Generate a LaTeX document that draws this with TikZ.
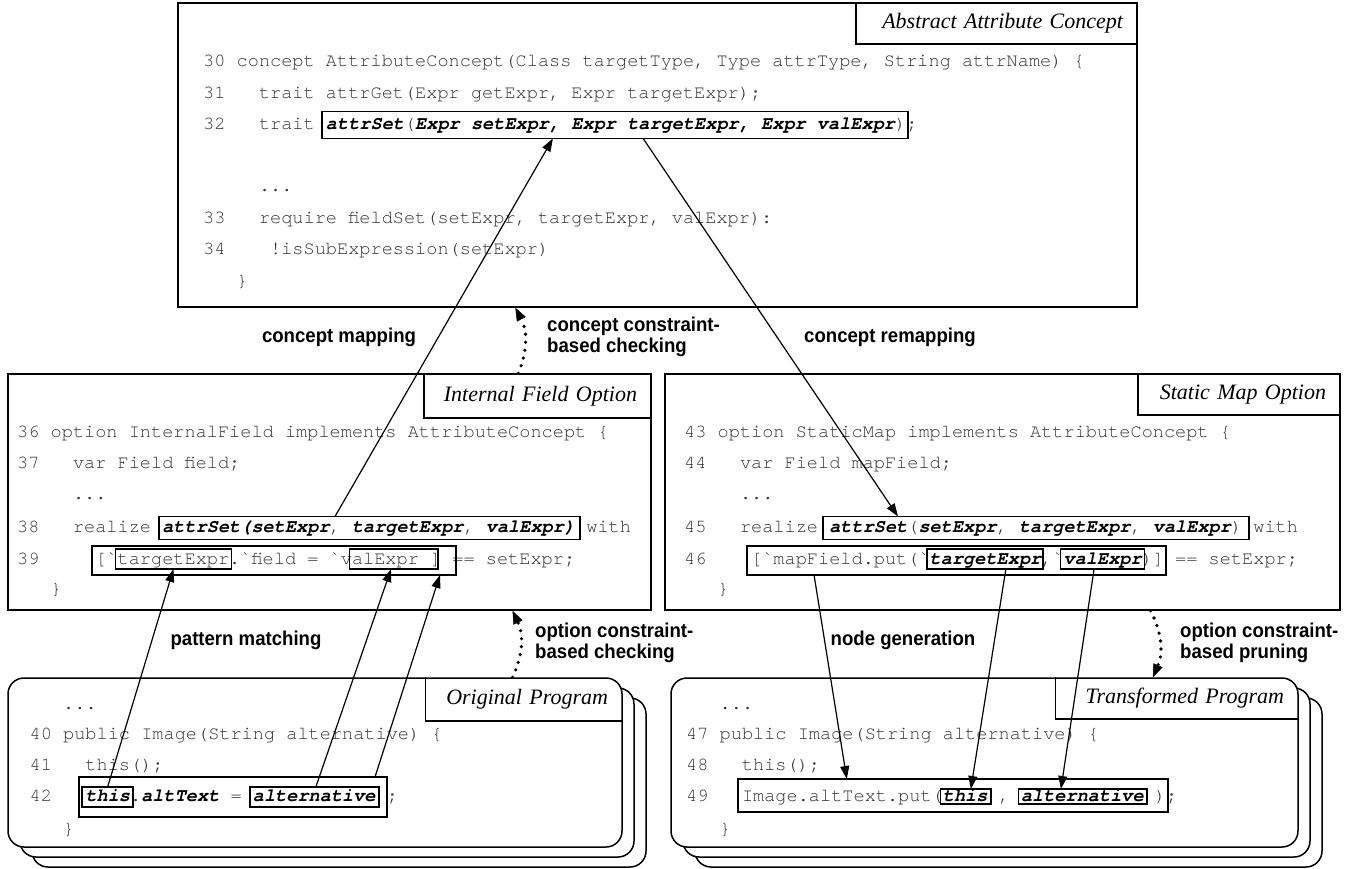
\documentclass[tikz,border=0pt]{standalone}
\usepackage{fontspec}
\setmainfont{Liberation Serif}
\newfontfamily\codefont{texgyrecursor}[Extension=.otf, UprightFont=*-regular, BoldFont=*-bold, ItalicFont=*-italic, BoldItalicFont=*-bolditalic]
\newfontfamily\lblfont[FakeStretch=0.93]{Liberation Sans}
\usetikzlibrary{arrows.meta,calc}
\newcommand\Bi[1]{{\color{black}\bfseries\itshape #1}}
\tikzset{
  frm/.style={draw, line width=1.5pt, fill=white, inner sep=0pt},
  rfrm/.style={frm, rounded corners=16pt},
  tabbox/.style={line width=1.5pt, inner xsep=14pt, inner ysep=0pt, align=right, anchor=north east, font=\itshape\fontsize{22}{24}\selectfont},
  codeln/.style={font=\codefont\fontsize{18.6}{20}\selectfont, text=black!80, inner sep=0pt, anchor=base west},
  cbox/.style={draw, line width=1.3pt, inner sep=0pt, outer sep=0pt},
  lbl/.style={font=\lblfont\bfseries\fontsize{20}{21}\selectfont, inner sep=0pt, align=left},
  arr/.style={line width=1.2pt, -{Triangle[length=13pt,width=9pt]}},
  dotarr/.style={line width=3.6pt, line cap=round, dash pattern=on 0pt off 8pt, -{Triangle[length=13pt,width=10pt,line width=0.5pt]}},
}
\begin{document}
\begin{tikzpicture}[x=1pt,y=-1pt]
\useasboundingbox (0,0) rectangle (1349,869);

% ---------- top: abstract concept ----------
\node[frm, minimum width=959pt, minimum height=304pt] (topF) at (657.5,155) {};
\node[tabbox, draw, text width=253pt, minimum height=41pt] (tabA) at (topF.north east) {Abstract Attribute Concept};
\node[codeln] (l30) at (203,66.5) {30 concept AttributeConcept(Class targetType, Type attrType, String attrName) \{};
\node[codeln] (l31) at (203,98.5) {31~~~trait attrGet(Expr getExpr, Expr targetExpr);};
\node[codeln] (l32) at (203,129.5) {32~~~trait \Bi{attrSet}(\Bi{Expr setExpr, Expr targetExpr, Expr valExpr});};
\node[cbox, minimum width=586pt, minimum height=27pt] (b32) at (615,125) {};
\node[codeln] (d1) at (258.8,192) {...};
\node[codeln] (l33) at (203,223.5) {33~~~require fieldSet(setExpr, targetExpr, valExpr):};
\node[codeln] (l34) at (203,254.5) {34~~~~!isSubExpression(setExpr)};
\node[codeln] (e1) at (236.5,286.5) {\}};

% ---------- middle left: internal field ----------
\node[frm, minimum width=643pt, minimum height=236pt] (ifF) at (329.5,492) {};
\node[tabbox, draw, text width=199pt, minimum height=44pt] (tabI) at (ifF.north east) {Internal Field Option};
\node[codeln] (l36) at (17,437.5) {36 option InternalField implements AttributeConcept \{};
\node[codeln] (l37) at (17,468.5) {37~~~var Field field;};
\node[codeln] (d2) at (72.8,499) {...};
\node[codeln] (l38) at (17,532.5) {38~~~realize \Bi{attrSet(setExpr}, \Bi{targetExpr}, \Bi{valExpr)} with};
\node[cbox, minimum width=421pt, minimum height=23pt] (b38) at (369.5,528) {};
\node[codeln] (l39) at (17,564) {39~~~~~[`targetExpr.`field = `valExpr ] == setExpr;};
\node[cbox, minimum width=116pt, minimum height=20pt] (t39) at (173.5,559) {};
\node[cbox, minimum width=88.5pt, minimum height=20pt] (v39) at (393.75,559) {};
\node[cbox, minimum width=364pt, minimum height=29pt] (o39) at (274,560.5) {};
\node[codeln] (e2) at (50.5,594.5) {\}};

% ---------- middle right: static map ----------
\node[frm, minimum width=675pt, minimum height=236pt] (smF) at (1002.5,492) {};
\node[tabbox, draw, text width=174pt, minimum height=41pt] (tabS) at (smF.north east) {Static Map Option};
\node[codeln] (l43) at (684,437.5) {43 option StaticMap implements AttributeConcept \{};
\node[codeln] (l44) at (684,468.5) {44~~~var Field mapField;};
\node[codeln] (d3) at (739.8,499) {...};
\node[codeln] (l45) at (684,532.5) {45~~~realize \Bi{attrSet}(\Bi{setExpr}, \Bi{targetExpr}, \Bi{valExpr}) with};
\node[cbox, minimum width=426pt, minimum height=23pt] (b45) at (1036,528) {};
\node[codeln] (l46) at (684,564) {46~~~~[`mapField.put(`\Bi{targetExpr},`\Bi{valExpr})] == setExpr;};
\node[cbox, minimum width=116pt, minimum height=20pt] (t46) at (985,559) {};
\node[cbox, minimum width=84pt, minimum height=20pt] (v46) at (1102.5,559) {};
\node[cbox, minimum width=419pt, minimum height=29pt] (o46) at (956.5,560.5) {};
\node[codeln] (e3) at (717.5,594.5) {\}};

% ---------- bottom left: original program ----------
\node[rfrm, minimum width=614pt, minimum height=169pt] (op3) at (339,782.5) {};
\node[rfrm, minimum width=614pt, minimum height=169pt] (op2) at (327,772.5) {};
\node[rfrm, minimum width=614pt, minimum height=169pt] (opF) at (315,762.5) {};
\node[tabbox, text width=168pt, minimum height=42pt] (tabO) at (opF.north east) {Original Program};
\draw[line width=1.5pt] (tabO.north west) |- (tabO.south east);
\node[codeln] (d4) at (63,709) {...};
\node[codeln] (l40) at (29.5,739.5) {40 public Image(String alternative) \{};
\node[codeln] (l41) at (29.5,770.5) {41~~~this();};
\node[codeln] (l42) at (29.5,801.5) {42~~~\Bi{this}.\Bi{altText} = \Bi{alternative} ;};
\node[cbox, minimum width=51pt, minimum height=20pt] (this42) at (107.6,797) {};
\node[cbox, minimum width=129pt, minimum height=20pt] (alt42) at (314.5,797) {};
\node[cbox, minimum width=308pt, minimum height=40pt] (o42) at (233,797) {};
\node[codeln] (e4) at (63,834.5) {\}};

% ---------- bottom right: transformed program ----------
\node[rfrm, minimum width=627pt, minimum height=169pt] (tp3) at (1008.5,782.5) {};
\node[rfrm, minimum width=627pt, minimum height=169pt] (tp2) at (996.5,772.5) {};
\node[rfrm, minimum width=627pt, minimum height=169pt] (tpF) at (984.5,762.5) {};
\node[tabbox, text width=214pt, minimum height=40pt] (tabT) at (tpF.north east) {Transformed Program};
\draw[line width=1.5pt] (tabT.north west) |- (tabT.south east);
\node[codeln] (d5) at (719.5,709) {...};
\node[codeln] (l47) at (686,739.5) {47 public Image(String alternative) \{};
\node[codeln] (l48) at (686,770.5) {48~~~this();};
\node[codeln] (l49) at (686,801.5) {49~~~Image.altText.put(\Bi{this} , \Bi{alternative} );};
\node[cbox, minimum width=50.5pt, minimum height=15pt] (this49) at (965.75,796.5) {};
\node[cbox, minimum width=128.5pt, minimum height=15pt] (alt49) at (1082.75,796.5) {};
\node[cbox, minimum width=430pt, minimum height=33pt] (o49) at (953,795.5) {};
\node[codeln] (e5) at (719.5,834.5) {\}};

% ---------- labels ----------
\node[lbl] (lm) at (339,337) {concept mapping};
\node[lbl, anchor=west] (lcc) at (547,337) {concept constraint-\\based checking};
\node[lbl] (lrm) at (890,337) {concept remapping};
\node[lbl] (lpm) at (246,640) {pattern matching};
\node[lbl, anchor=west] (loc) at (535,643) {option constraint-\\based checking};
\node[lbl] (lng) at (903,640) {node generation};
\node[lbl, anchor=west] (lop) at (1180,643) {option constraint-\\based pruning};

% ---------- connectors ----------
\draw[arr] ($(b38.north west)!0.418!(b38.north east)$) -- ($(b32.south west)!0.394!(b32.south east)$);
\draw[arr] ($(b32.south west)!0.548!(b32.south east)$) -- ($(b45.north west)!0.176!(b45.north east)$);
\draw[dotarr] ($(ifF.north west)!0.793!(ifF.north east)$) to[bend right=25] ($(topF.south west)!0.352!(topF.south east)$);
\draw[dotarr] ($(opF.north west)!0.821!(opF.north east)$) to[bend right=25] ($(ifF.south west)!0.784!(ifF.south east)$);
\draw[dotarr] ($(smF.south west)!0.719!(smF.south east)$) to[bend left=25] ($(tabT.north west)!0.401!(tabT.north east)$);
\draw[arr] (this42.north) -- (t39.south);
\draw[arr] ($(alt42.north west)!0.51!(alt42.north east)$) -- ($(v39.south west)!0.47!(v39.south east)$);
\draw[arr] ($(o42.north west)!0.961!(o42.north east)$) -- ($(o39.south west)!0.956!(o39.south east)$);
\draw[arr] ($(o46.south west)!0.16!(o46.south east)$) -- ($(o49.north west)!0.253!(o49.north east)$);
\draw[arr] ($(t46.south west)!0.68!(t46.south east)$) -- ($(this49.north west)!0.6!(this49.north east)$);
\draw[arr] ($(v46.south west)!0.4!(v46.south east)$) -- ($(alt49.north west)!0.33!(alt49.north east)$);
\end{tikzpicture}
\end{document}
